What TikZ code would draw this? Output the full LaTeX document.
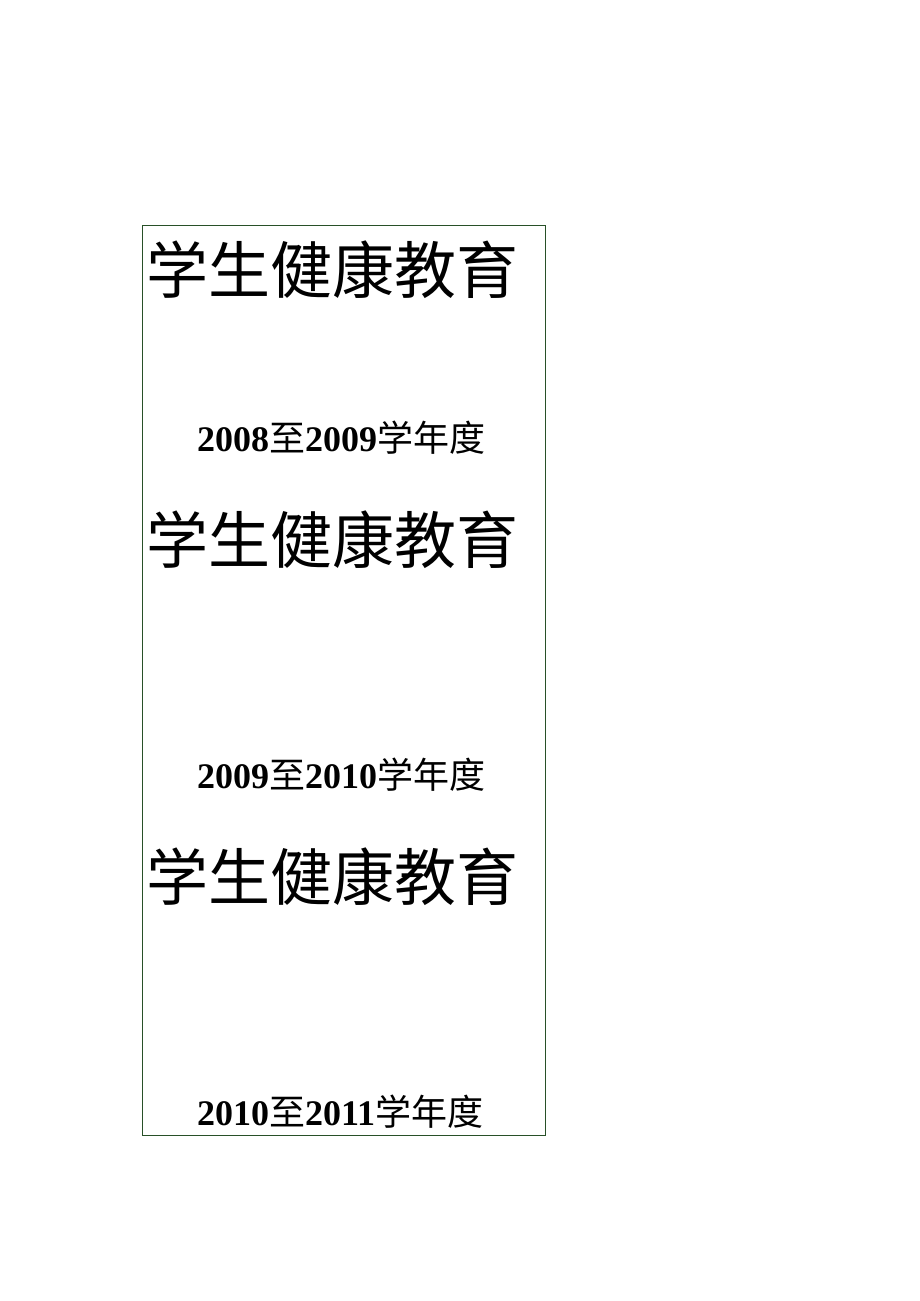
\documentclass[tikz,border=0pt]{standalone}
\usepackage{fontspec}
\setmainfont{Liberation Serif}
\newfontfamily\cjk{Noto Sans CJK SC}
\definecolor{frame}{RGB}{40,80,40}
\begin{document}
\begin{tikzpicture}[x=1pt,y=1pt,
 title/.style={anchor=west,inner sep=0pt,font=\cjk\fontsize{62}{62}\selectfont},
 year/.style={anchor=west,inner sep=0pt,font=\fontsize{36}{36}\selectfont}]
\useasboundingbox (0,0) rectangle (920,-1301);
\draw[frame,line width=0.8pt] (142,-225) rectangle (545,-1135);
\node[title] (t1) at (146,-270) {学生健康教育};
\node[year] (y1) at (197,-438) {\textbf{2008}{\cjk 至}\textbf{2009}{\cjk 学年度}};
\node[title] (t2) at (146,-540) {学生健康教育};
\node[year] (y2) at (197,-775) {\textbf{2009}{\cjk 至}\textbf{2010}{\cjk 学年度}};
\node[title] (t3) at (146,-877) {学生健康教育};
\node[year] (y3) at (197,-1112) {\textbf{2010}{\cjk 至}\textbf{2011}{\cjk 学年度}};
\end{tikzpicture}
\end{document}
